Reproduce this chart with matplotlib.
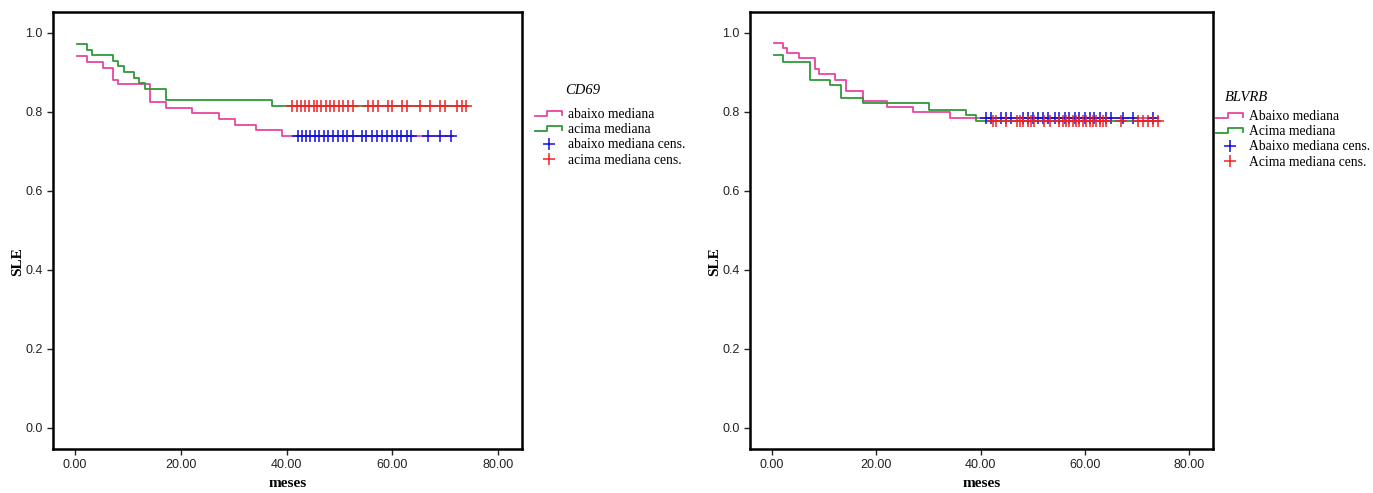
"""
Kaplan-Meier curves (SLE) for CD69 and BLVRB, split by median expression
"""

import numpy as np
import matplotlib.pyplot as plt
from matplotlib.lines import Line2D
from matplotlib.legend_handler import HandlerBase

### data
# CD69
cd69_low_t = [0.3, 2.2, 5.35, 7.25, 8.2, 14.2, 17.2, 22.2, 27.2, 30.2, 34.2, 39.2, 71.5]
cd69_low_s = [0.941, 0.927, 0.912, 0.882, 0.870, 0.826, 0.811, 0.796, 0.781, 0.767, 0.753, 0.738, 0.738]
cd69_high_t = [0.3, 2.2, 3.3, 7.25, 8.2, 9.3, 11.2, 12.2, 13.2, 17.2, 37.2, 74.3]
cd69_high_s = [0.971, 0.957, 0.943, 0.929, 0.915, 0.901, 0.887, 0.872, 0.857, 0.830, 0.816, 0.816]
cd69_low_cens = [42.1, 42.9, 43.7, 44.4, 45.4, 46.2, 47.1, 47.9, 48.8, 49.7, 50.6, 51.5, 52.5,
                 54.3, 55.1, 56.1, 57.0, 58.0, 58.9, 59.9, 60.8, 61.7, 62.7, 63.6,
                 66.8, 69.0, 71.0]
cd69_high_cens = [41.0, 41.9, 42.7, 43.5, 44.3, 45.1, 45.8, 46.6, 47.4, 48.2, 49.0, 50.0, 50.7,
                  51.7, 52.6, 55.4, 56.4, 57.3, 59.2, 59.9, 61.8, 62.7, 65.2, 67.1, 69.0,
                  69.9, 72.2, 73.1, 74.0]

# BLVRB
blvrb_low_t = [0.4, 2.2, 2.9, 5.2, 8.2, 9.1, 12.2, 14.3, 17.4, 22.1, 27.0, 34.2, 73.9]
blvrb_low_s = [0.975, 0.963, 0.950, 0.936, 0.908, 0.895, 0.881, 0.854, 0.827, 0.813, 0.800, 0.785, 0.785]
blvrb_high_t = [0.4, 2.2, 7.3, 11.2, 13.3, 17.4, 30.2, 37.3, 39.2, 74.3]
blvrb_high_s = [0.943, 0.927, 0.881, 0.867, 0.836, 0.822, 0.806, 0.791, 0.777, 0.777]
blvrb_low_cens = [41.1, 42.0, 44.0, 44.9, 45.9, 48.1, 49.1, 50.0, 51.0, 51.9, 52.9, 54.2, 55.1,
                  56.1, 57.0, 58.0, 58.9, 59.9, 60.9, 61.8, 62.8, 64.1, 65.0, 67.2, 69.2, 73.0]
blvrb_high_cens = [42.4, 43.0, 44.9, 46.9, 47.5, 48.1, 49.1, 49.7, 50.3, 52.2, 53.2, 55.1, 55.8,
                   56.4, 57.0, 57.7, 58.3, 58.9, 59.6, 60.2, 60.9, 61.5, 62.1, 62.8, 63.4,
                   64.1, 66.9, 70.1, 71.1, 72.0, 73.0, 73.9]

cd69_labels = ['abaixo mediana', 'acima mediana', 'abaixo mediana cens.', 'acima mediana cens.']
blvrb_labels = ['Abaixo mediana', 'Acima mediana', 'Abaixo mediana cens.', 'Acima mediana cens.']

PINK = '#e8449f'
GREEN = '#2f9a3a'
BLUE = '#1010e0'
RED = '#ee2222'

W, H = 1373, 493


class StepHandler(HandlerBase):
	""" legend key drawn as a little step: _|‾| """
	def create_artists(self, legend, orig, xd, yd, width, height, fontsize, trans):
		x = np.array([0, 0.45, 0.45, 1.0, 1.0]) * width - xd
		y = np.array([0.2, 0.2, 0.75, 0.75, 0.35]) * height - yd
		ln = Line2D(x, y, color=orig.get_color(), lw=1.3, transform=trans)
		return [ln]


def km_panel(ax, lo_t, lo_s, hi_t, hi_s, lo_c, hi_c):
	ax.step(lo_t, lo_s, where='post', color=PINK, lw=1.3, zorder=3)
	ax.step(hi_t, hi_s, where='post', color=GREEN, lw=1.3, zorder=3)
	ax.plot(lo_c, np.full(len(lo_c), lo_s[-1]), ls='none', marker='+', ms=8, mew=1.1,
		color=BLUE, zorder=4)
	ax.plot(hi_c, np.full(len(hi_c), hi_s[-1]), ls='none', marker='+', ms=8, mew=1.1,
		color=RED, zorder=4)

	ax.set_xlim(-4.15, 84.5)
	ax.set_ylim(-0.054, 1.053)
	ax.set_xticks(np.arange(0, 81, 20))
	ax.set_xticklabels(['%.2f' % v for v in np.arange(0, 81, 20)])
	ax.set_yticks(np.arange(0, 1.01, 0.2))
	ax.set_yticklabels(['%.1f' % v for v in np.arange(0, 1.01, 0.2)])
	for s in ax.spines.values():
		s.set_linewidth(1.8)
	ax.tick_params(direction='out', length=4, width=1, labelsize=9, colors='#222222',
		labelfontfamily='Liberation Sans')
	ax.set_xlabel('meses', fontfamily='Liberation Serif', fontweight='bold', fontsize=11,
		labelpad=4)
	ax.set_ylabel('SLE', fontfamily='Liberation Serif', fontweight='bold', fontsize=11,
		labelpad=0.5)
	ax.yaxis.label.set_y(0.428)


fig = plt.figure(figsize=(W/100, H/100), dpi=100)
ax1 = fig.add_axes([53/W, 1-449/H, 469/W, 437/H])
ax2 = fig.add_axes([750/W, 1-449/H, 463/W, 437/H])

km_panel(ax1, cd69_low_t, cd69_low_s, cd69_high_t, cd69_high_s, cd69_low_cens, cd69_high_cens)
km_panel(ax2, blvrb_low_t, blvrb_low_s, blvrb_high_t, blvrb_high_s, blvrb_low_cens, blvrb_high_cens)

# legends, title put on as separate text
def add_legend(ax, labels, title, x, y, tx, ty):
	handles = [
		Line2D([], [], color=PINK),
		Line2D([], [], color=GREEN),
		Line2D([], [], ls='none', marker='+', ms=9, mew=1.1, color=BLUE),
		Line2D([], [], ls='none', marker='+', ms=9, mew=1.1, color=RED)]
	hmap = {handles[0]: StepHandler(), handles[1]: StepHandler()}
	leg = ax.legend(handles, labels, loc='upper left', bbox_to_anchor=(x/W, 1-y/H),
		bbox_transform=fig.transFigure, frameon=False,
		prop={'family': 'Liberation Serif', 'size': 9.8}, handler_map=hmap,
		handlelength=2.0, handletextpad=0.45, labelspacing=0.16, borderpad=0, borderaxespad=0)
	fig.text(tx/W, 1-ty/H, title, ha='center', va='center', fontfamily='Liberation Serif',
		fontstyle='italic', fontsize=10.5)
	return leg

add_legend(ax1, cd69_labels, 'CD69', 535, 108, 583, 90)
add_legend(ax2, blvrb_labels, 'BLVRB', 1216, 110, 1246, 97)

fig.savefig('out.png', dpi=100)
